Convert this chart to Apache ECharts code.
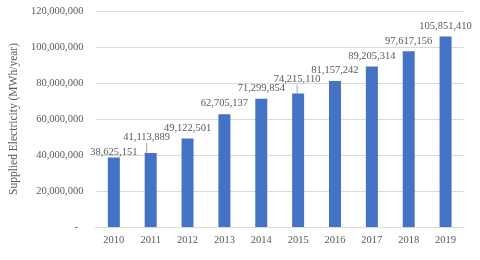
<!DOCTYPE html>
<html><head><meta charset="utf-8">
<script src="https://cdn.jsdelivr.net/npm/echarts@6/dist/echarts.min.js"></script>
<style>html,body{margin:0;padding:0;background:#fff}#c{width:480px;height:260px}</style>
</head><body><div id="c"></div>
<script>
var years = ['2010','2011','2012','2013','2014','2015','2016','2017','2018','2019'];
var supplied = [38625151, 41113889, 49122501, 62705137, 71299854, 74215110, 81157242, 89205314, 97617156, 105851410];
var yTicks = [0, 20000000, 40000000, 60000000, 80000000, 100000000, 120000000];
var axisTitle = 'Supplied Electricity (MWh/year)';
var leaderIdx = [1, 5];
var labelShift = {0: [0, 5], 1: [-4, -5], 5: [-1, -4]};

var font = 'Liberation Serif';
var txt = '#595959';
function fmt(v){ return v.toString().replace(/\B(?=(\d{3})+(?!\d))/g, ','); }

var data = supplied.map(function(v, i){
  var d = {value: v};
  if (leaderIdx.indexOf(i) >= 0) d.labelLine = {show: true};
  return d;
});

var chart = echarts.init(document.getElementById('c'));
chart.setOption({
  animation: false,
  grid: {left: 88, right: 16, top: 11, bottom: 33},
  xAxis: {
    type: 'category', data: years,
    axisLine: {lineStyle: {color: '#d9d9d9'}},
    axisTick: {show: false},
    axisLabel: {color: txt, fontFamily: font, fontSize: 10.5, margin: 8}
  },
  yAxis: {
    type: 'value', min: yTicks[0], max: yTicks[yTicks.length-1], interval: yTicks[1]-yTicks[0],
    name: axisTitle, nameLocation: 'middle', nameGap: 71,
    nameTextStyle: {color: txt, fontFamily: font, fontSize: 11.5},
    axisLine: {show: false}, axisTick: {show: false},
    splitLine: {lineStyle: {color: '#d9d9d9'}},
    axisLabel: {color: txt, fontFamily: font, fontSize: 10.5, margin: 12,
      formatter: function(v){ return v === 0 ? '-  ' : fmt(v); }}
  },
  series: [{
    type: 'bar', data: data, barWidth: 12,
    itemStyle: {color: '#4472C4'},
    label: {show: true, position: 'top', distance: 5, color: txt, fontFamily: font, fontSize: 10.5,
      formatter: function(p){ return fmt(p.value); }},
    labelLine: {show: false, lineStyle: {color: '#a6a6a6', width: 1}},
    labelLayout: function(p){
      var s = labelShift[p.dataIndex];
      return s ? {dx: s[0], dy: s[1]} : {};
    }
  }]
});
</script></body></html>
